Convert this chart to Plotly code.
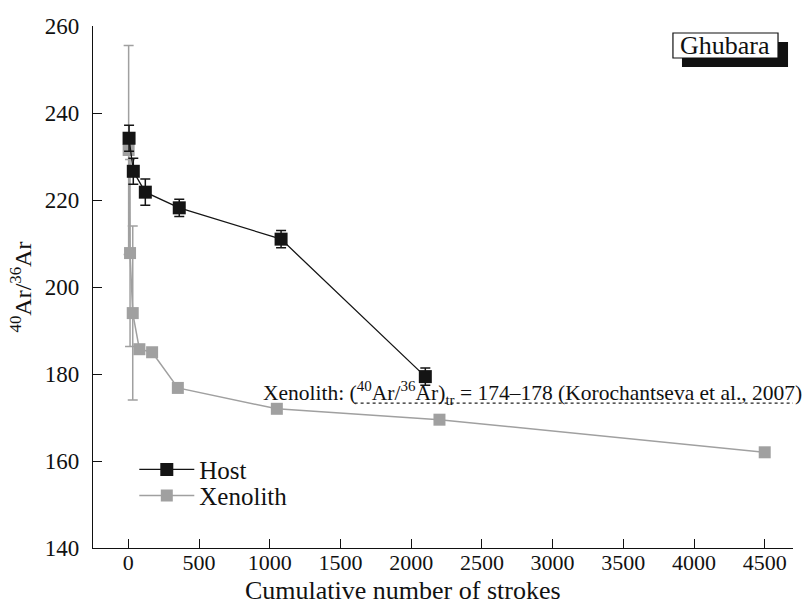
import plotly.graph_objects as go

# ---- data ----
host_x = [5, 35, 120, 360, 1080, 2100]
host_y = [234.2, 226.6, 221.8, 218.2, 211.0, 179.4]
host_err = [3.0, 3.0, 3.0, 2.0, 2.0, 2.0]

xeno_x = [2, 12, 31, 78, 168, 350, 1050, 2200, 4500]
xeno_y = [231.5, 207.8, 194.0, 185.7, 185.0, 176.8, 172.0, 169.5, 162.0]
xeno_err = [24.0, 21.5, 20.0, 0, 0, 0, 0, 0, 0]

ref_x = [1600, 4700]
ref_y = [173.3, 173.3]
ref_label = ("Xenolith: (<sup>40</sup>Ar/<sup>36</sup>Ar)<sub>tr</sub> = 174\u2013178 "
             "(Korochantseva et al., 2007)")

x_ticks = [0, 500, 1000, 1500, 2000, 2500, 3000, 3500, 4000, 4500]
y_ticks = [140, 160, 180, 200, 220, 240, 260]

FONT = "Liberation Serif"
BLACK = "#141414"
GRAY = "#a0a0a0"
INK = "#111111"

fig = go.Figure()

fig.add_trace(go.Scatter(
    x=ref_x, y=ref_y, mode="lines",
    line=dict(color="#222222", width=1.2, dash="3px,3px"),
    showlegend=False, hoverinfo="skip"))

fig.add_trace(go.Scatter(
    x=xeno_x, y=xeno_y, mode="lines+markers", name="Xenolith", legend="legend2",
    line=dict(color=GRAY, width=1.5),
    marker=dict(symbol="square", size=12, color=GRAY),
    error_y=dict(type="data", array=xeno_err, visible=True,
                 color=GRAY, thickness=1.5, width=5)))

fig.add_trace(go.Scatter(
    x=host_x, y=host_y, mode="lines+markers", name="Host", legend="legend",
    line=dict(color=BLACK, width=1.3),
    marker=dict(symbol="square", size=13, color=BLACK),
    error_y=dict(type="data", array=host_err, visible=True,
                 color=BLACK, thickness=1.5, width=5)))

fig.add_annotation(x=940, y=ref_y[0], xref="x", yref="y", text=ref_label,
                   showarrow=False, xanchor="left", yanchor="bottom", yshift=-7,
                   font=dict(family=FONT, size=21.5, color=INK))

# x-axis title (centred on the figure, as in the reference)
fig.add_annotation(x=0.4426, y=-0.081, xref="paper", yref="paper",
                   text="Cumulative number of strokes", showarrow=False,
                   xanchor="center", yanchor="middle",
                   font=dict(family=FONT, size=26, color=INK))

# Ghubara label box with shadow
box = dict(x0=0.8285, x1=0.9786, y0=0.9387, y1=0.9866)
fig.add_shape(type="rect", xref="paper", yref="paper",
              x0=0.8414, x1=0.9929, y0=0.9215, y1=0.9694,
              fillcolor=INK, line=dict(width=0))
fig.add_shape(type="rect", xref="paper", yref="paper", **box,
              fillcolor="white", line=dict(color=INK, width=1.2))
fig.add_annotation(x=(box["x0"] + box["x1"]) / 2, y=(box["y0"] + box["y1"]) / 2,
                   xref="paper", yref="paper", text="Ghubara", showarrow=False,
                   xanchor="center", yanchor="middle",
                   font=dict(family=FONT, size=26, color=INK))

leg_common = dict(xanchor="left", yanchor="middle", bgcolor="rgba(0,0,0,0)",
                  font=dict(family=FONT, size=25, color=INK), itemwidth=55,
                  borderwidth=0)
fig.update_layout(
    width=806, height=604,
    margin=dict(l=93, r=13, t=26, b=56, autoexpand=False),
    paper_bgcolor="white", plot_bgcolor="white",
    font=dict(family=FONT, size=22, color=INK),
    legend=dict(x=0.059, y=0.150, **leg_common),
    legend2=dict(x=0.059, y=0.100, **leg_common),
    showlegend=True,
)

fig.update_xaxes(range=[-250, 4700], tickvals=x_ticks, ticks="inside", ticklen=9,
                 tickwidth=1.2, tickcolor=INK, automargin=False,
                 showline=True, linecolor=INK, linewidth=1.2, mirror=False,
                 showgrid=False, zeroline=False,
                 tickfont=dict(family=FONT, size=22), ticklabelstandoff=-6)
fig.update_yaxes(range=[140, 260], tickvals=y_ticks, ticks="inside", ticklen=9,
                 tickwidth=1.2, tickcolor=INK, automargin=False,
                 showline=True, linecolor=INK, linewidth=1.2, mirror=False,
                 showgrid=False, zeroline=False,
                 title=dict(text="<sup>40</sup>Ar/<sup>36</sup>Ar", standoff=6,
                            font=dict(family=FONT, size=24)),
                 tickfont=dict(family=FONT, size=23), ticklabelstandoff=8)

fig.write_html("out.html")
